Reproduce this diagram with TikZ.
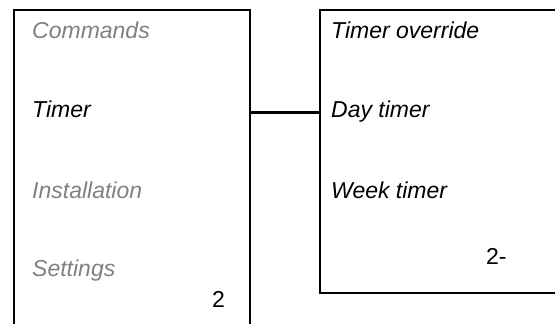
\documentclass[tikz,border=0pt]{standalone}
\usepackage{fontspec}
\newfontfamily\lab{Liberation Sans}
\definecolor{dimgray}{HTML}{808080}
\begin{document}
\begin{tikzpicture}[x=1pt,y=-1pt,
  box/.style={draw=black,line width=2.2pt,inner sep=0pt,fill=none},
  item/.style={anchor=base west,inner sep=0pt,font=\lab\fontsize{23}{26}\selectfont\itshape},
  off/.style={item,text=dimgray},
  on/.style={item,text=black},
  num/.style={anchor=base west,inner sep=0pt,font=\lab\fontsize{23}{26}\selectfont},
  link/.style={draw=black,line width=2.2pt}]
\useasboundingbox (0,0) rectangle (555,324);
\clip (0,0) rectangle (555,324);
\node[box,minimum width=236pt,minimum height=340pt] (L) at (132,180) {};
\node[box,minimum width=260pt,minimum height=283pt] (R) at (450,151.5) {};
\node[off] (cmd) at (32,38.5) {Commands};
\node[on] (tim) at (32,117.7) {Timer};
\node[off] (ins) at (32,198) {Installation};
\node[off] (set) at (32,276) {Settings};
\node[num] (n1) at (212,307) {2};
\node[on] (ovr) at (331,38.5) {Timer override};
\node[on] (day) at (331,117.7) {Day timer};
\node[on] (wk) at (331,198.3) {Week timer};
\node[num] (n2) at (486,264) {2-};
\coordinate (j) at (0,112.5);
\draw[link] (L.east |- j) -- (R.west |- j);
\end{tikzpicture}
\end{document}
